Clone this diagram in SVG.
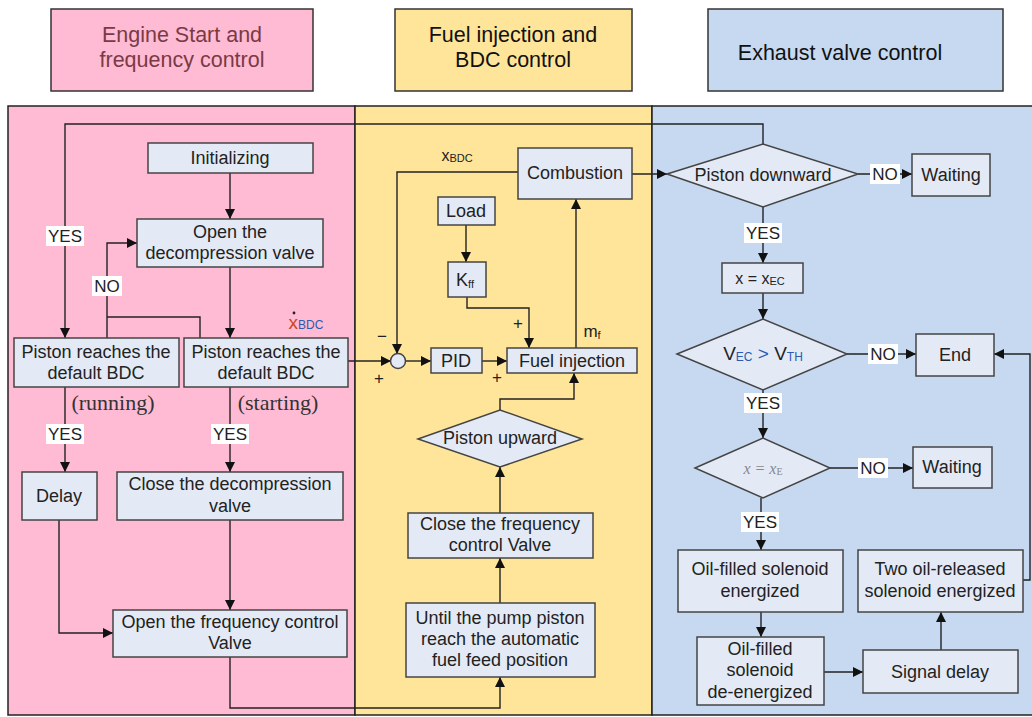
<svg xmlns="http://www.w3.org/2000/svg" width="1032" height="717" viewBox="0 0 1032 717">
<style>
.node{fill:#E4EAF5;stroke:#444;stroke-width:1.5}
.t{font-family:"Liberation Sans",Arial,sans-serif;font-size:18px;fill:#222;text-anchor:middle;dominant-baseline:central}
.h{font-family:"Liberation Sans",Arial,sans-serif;font-size:21.5px;text-anchor:middle;dominant-baseline:central}
.c{fill:none;stroke:#222;stroke-width:1.4}
.lbl{font-family:"Liberation Sans",Arial,sans-serif;font-size:17px;fill:#222;text-anchor:middle;dominant-baseline:central}
.lb{fill:#fff}
.ser{font-family:"Liberation Serif","Times New Roman",serif;font-size:22px;fill:#333;text-anchor:middle;dominant-baseline:central}
.sub{font-size:11px}
</style>
<defs>
<marker id="a" viewBox="0 0 10 10" refX="10" refY="5" markerWidth="10" markerHeight="10" markerUnits="userSpaceOnUse" orient="auto">
<path d="M0,0 L10,5 L0,10 z" fill="#111"/>
</marker>
</defs>
<rect width="1032" height="717" fill="#fff"/>
<!-- headers -->
<g id="hdr-pink"><rect x="51" y="9" width="262" height="82" fill="#FFBBD3" stroke="#333" stroke-width="1.5"/>
<text class="h" x="182" y="35" fill="#7a3a45">Engine Start and</text><text class="h" x="182" y="60" fill="#7a3a45">frequency control</text></g>
<g id="hdr-yellow"><rect x="395" y="9" width="237" height="82" fill="#FFE599" stroke="#333" stroke-width="1.5"/>
<text class="h" x="513" y="35" fill="#111">Fuel injection and</text><text class="h" x="513" y="60" fill="#111">BDC control</text></g>
<g id="hdr-blue"><rect x="708" y="9" width="295" height="82" fill="#C6D9F1" stroke="#333" stroke-width="1.5"/>
<text class="h" x="840" y="53" fill="#111">Exhaust valve control</text></g>
<!-- panels -->
<g id="panels">
<rect x="8" y="106" width="347" height="609" fill="#FFBBD3" stroke="#222" stroke-width="1.5"/>
<rect x="355" y="106" width="297" height="609" fill="#FFE599" stroke="#222" stroke-width="1.5"/>
<rect x="652" y="106" width="390" height="609" fill="#C6D9F1" stroke="#222" stroke-width="1.5"/>
</g>
<!-- connectors -->
<g id="connectors">
<path class="c" d="M230,173 V219" marker-end="url(#a)"/>
<path class="c" d="M230,267 V338" marker-end="url(#a)"/>
<path class="c" d="M763,144 V124 H65 V338" marker-end="url(#a)"/>
<path class="c" d="M107,338 V243 H137" marker-end="url(#a)"/>
<path class="c" d="M200,338 V317 H107"/>
<path class="c" d="M65,387 V472" marker-end="url(#a)"/>
<path class="c" d="M230,387 V472" marker-end="url(#a)"/>
<path class="c" d="M230,520 V610" marker-end="url(#a)"/>
<path class="c" d="M59,520 V633 H113" marker-end="url(#a)"/>
<path class="c" d="M230,657 V708 H500 V677" marker-end="url(#a)"/>
<path class="c" d="M500,603 V558" marker-end="url(#a)"/>
<path class="c" d="M500,513 V467" marker-end="url(#a)"/>
<path class="c" d="M500,410 V399 H574 V373" marker-end="url(#a)"/>
<path class="c" d="M348,361 H391" marker-end="url(#a)"/>
<path class="c" d="M518,172 H397 V354" marker-end="url(#a)"/>
<path class="c" d="M405,361 H431" marker-end="url(#a)"/>
<path class="c" d="M482,361 H507" marker-end="url(#a)"/>
<path class="c" d="M466,225 V262" marker-end="url(#a)"/>
<path class="c" d="M467,297 V308 H529 V348" marker-end="url(#a)"/>
<path class="c" d="M576,348 V199" marker-end="url(#a)"/>
<path class="c" d="M632,174 H667" marker-end="url(#a)"/>
<path class="c" d="M858,174 H912" marker-end="url(#a)"/>
<path class="c" d="M763,207 V263" marker-end="url(#a)"/>
<path class="c" d="M763,293 V319" marker-end="url(#a)"/>
<path class="c" d="M847,354 H916" marker-end="url(#a)"/>
<path class="c" d="M763,390 V438" marker-end="url(#a)"/>
<path class="c" d="M830,468 H913" marker-end="url(#a)"/>
<path class="c" d="M761,498 V550" marker-end="url(#a)"/>
<path class="c" d="M761,612 V637" marker-end="url(#a)"/>
<path class="c" d="M824,672 H863" marker-end="url(#a)"/>
<path class="c" d="M941,650 V612" marker-end="url(#a)"/>
<path class="c" d="M1023,580 H1030 V354 H994" marker-end="url(#a)"/>
<!-- labels -->
<rect class="lb" x="46" y="226" width="38" height="20"/><text class="lbl" x="65" y="236">YES</text>
<rect class="lb" x="92" y="276" width="30" height="20"/><text class="lbl" x="107" y="286">NO</text>
<rect class="lb" x="46" y="424" width="38" height="20"/><text class="lbl" x="65" y="434">YES</text>
<rect class="lb" x="211" y="424" width="38" height="20"/><text class="lbl" x="230" y="434">YES</text>
<rect class="lb" x="870" y="164" width="30" height="20"/><text class="lbl" x="885" y="174">NO</text>
<rect class="lb" x="744" y="223" width="38" height="20"/><text class="lbl" x="763" y="233">YES</text>
<rect class="lb" x="868" y="344" width="30" height="20"/><text class="lbl" x="883" y="354">NO</text>
<rect class="lb" x="744" y="393" width="38" height="20"/><text class="lbl" x="763" y="403">YES</text>
<rect class="lb" x="858" y="458" width="30" height="20"/><text class="lbl" x="873" y="468">NO</text>
<rect class="lb" x="741" y="512" width="38" height="20"/><text class="lbl" x="760" y="522">YES</text>
<text class="lbl" x="382" y="336">−</text>
<text class="lbl" x="379" y="378">+</text>
<text class="lbl" x="497" y="377">+</text>
<text class="lbl" x="518" y="323">+</text>
<text class="lbl" x="592" y="331">m<tspan class="sub" dy="4">f</tspan></text>
<text class="lbl" x="457" y="155" style="font-size:16px">x<tspan class="sub" dy="3">BDC</tspan></text>
<text class="lbl" x="306" y="322" style="font-size:19px;fill:#c8461a">x<tspan dy="3" style="font-size:12px;fill:#2a5bb0">BDC</tspan></text>
<circle cx="294" cy="313" r="1.4" fill="#222"/>
<text class="ser" x="113" y="402">(running)</text>
<text class="ser" x="278" y="402">(starting)</text>
</g>
<!-- nodes -->
<g id="n-init"><rect class="node" x="148" y="143" width="165" height="30"/><text class="t" x="230" y="158">Initializing</text></g>
<g id="n-opendec"><rect class="node" x="137" y="219" width="186" height="48"/><text class="t" x="230" y="232">Open the</text><text class="t" x="230" y="253">decompression valve</text></g>
<g id="n-running"><rect class="node" x="14" y="338" width="165" height="49"/><text class="t" x="96" y="352">Piston reaches the</text><text class="t" x="96" y="373">default BDC</text></g>
<g id="n-starting"><rect class="node" x="184" y="338" width="164" height="49"/><text class="t" x="266" y="352">Piston reaches the</text><text class="t" x="266" y="373">default BDC</text></g>
<g id="n-delay"><rect class="node" x="22" y="472" width="75" height="48"/><text class="t" x="59" y="496">Delay</text></g>
<g id="n-closedec"><rect class="node" x="117" y="472" width="226" height="48"/><text class="t" x="230" y="484">Close the decompression</text><text class="t" x="230" y="506">valve</text></g>
<g id="n-openfreq"><rect class="node" x="113" y="610" width="234" height="47"/><text class="t" x="230" y="622">Open the frequency control</text><text class="t" x="230" y="643">Valve</text></g>
<g id="n-combustion"><rect class="node" x="518" y="148" width="114" height="51"/><text class="t" x="575" y="173">Combustion</text></g>
<g id="n-load"><rect class="node" x="438" y="197" width="57" height="28"/><text class="t" x="466" y="211">Load</text></g>
<g id="n-kff"><rect class="node" x="448" y="262" width="38" height="35"/><text class="t" x="465" y="280">K<tspan class="sub" dy="4">ff</tspan></text></g>
<g id="n-sum"><circle cx="398" cy="361" r="7.5" fill="#E4EAF5" stroke="#444" stroke-width="1.5"/></g>
<g id="n-pid"><rect class="node" x="431" y="348" width="51" height="25"/><text class="t" x="456" y="361">PID</text></g>
<g id="n-fuel"><rect class="node" x="507" y="348" width="130" height="25"/><text class="t" x="572" y="361">Fuel injection</text></g>
<g id="n-pup"><path class="node" d="M418,439 L500,410 L582,439 L500,467 Z"/><text class="t" x="500" y="438">Piston upward</text></g>
<g id="n-closefreq"><rect class="node" x="408" y="513" width="185" height="45"/><text class="t" x="500" y="524">Close the frequency</text><text class="t" x="500" y="545">control Valve</text></g>
<g id="n-until"><rect class="node" x="406" y="603" width="189" height="74"/><text class="t" x="500" y="618">Until the pump piston</text><text class="t" x="500" y="639">reach the automatic</text><text class="t" x="500" y="660">fuel feed position</text></g>
<g id="n-pdown"><path class="node" d="M667,174 L763,144 L858,174 L763,207 Z"/><text class="t" x="763" y="175">Piston downward</text></g>
<g id="n-wait1"><rect class="node" x="912" y="154" width="78" height="42"/><text class="t" x="951" y="175">Waiting</text></g>
<g id="n-xec"><rect class="node" x="722" y="263" width="81" height="30"/><text class="t" x="760" y="278" style="font-size:16px">x = x<tspan class="sub" dy="3">EC</tspan></text></g>
<g id="n-vec"><path class="node" d="M677,354 L763,319 L847,354 L763,390 Z"/><text class="t" x="763" y="353" style="font-size:19px">V<tspan dy="4" style="font-size:12px;fill:#2a5bb0">EC</tspan><tspan dy="-4" style="fill:#2a5bb0"> &gt; </tspan>V<tspan dy="4" style="font-size:12px;fill:#2a5bb0">TH</tspan></text></g>
<g id="n-end"><rect class="node" x="916" y="334" width="78" height="42"/><text class="t" x="955" y="355">End</text></g>
<g id="n-xe"><path class="node" d="M695,468 L763,438 L830,468 L763,498 Z"/><text x="763" y="468" style="font-family:'Liberation Serif',serif;font-style:italic;font-size:16px;fill:#888;text-anchor:middle;dominant-baseline:central">x = x<tspan dy="3" style="font-size:10px;font-style:normal">E</tspan></text></g>
<g id="n-wait2"><rect class="node" x="913" y="447" width="79" height="41"/><text class="t" x="952" y="467">Waiting</text></g>
<g id="n-oilfilled"><rect class="node" x="678" y="550" width="165" height="62"/><text class="t" x="760" y="569">Oil-filled solenoid</text><text class="t" x="760" y="591">energized</text></g>
<g id="n-deenergized"><rect class="node" x="697" y="637" width="127" height="68"/><text class="t" x="760" y="649">Oil-filled</text><text class="t" x="760" y="670">solenoid</text><text class="t" x="760" y="692">de-energized</text></g>
<g id="n-signal"><rect class="node" x="863" y="650" width="155" height="43"/><text class="t" x="940" y="672">Signal delay</text></g>
<g id="n-tworel"><rect class="node" x="858" y="550" width="165" height="62"/><text class="t" x="940" y="569">Two oil-released</text><text class="t" x="940" y="591">solenoid energized</text></g>
</svg>
